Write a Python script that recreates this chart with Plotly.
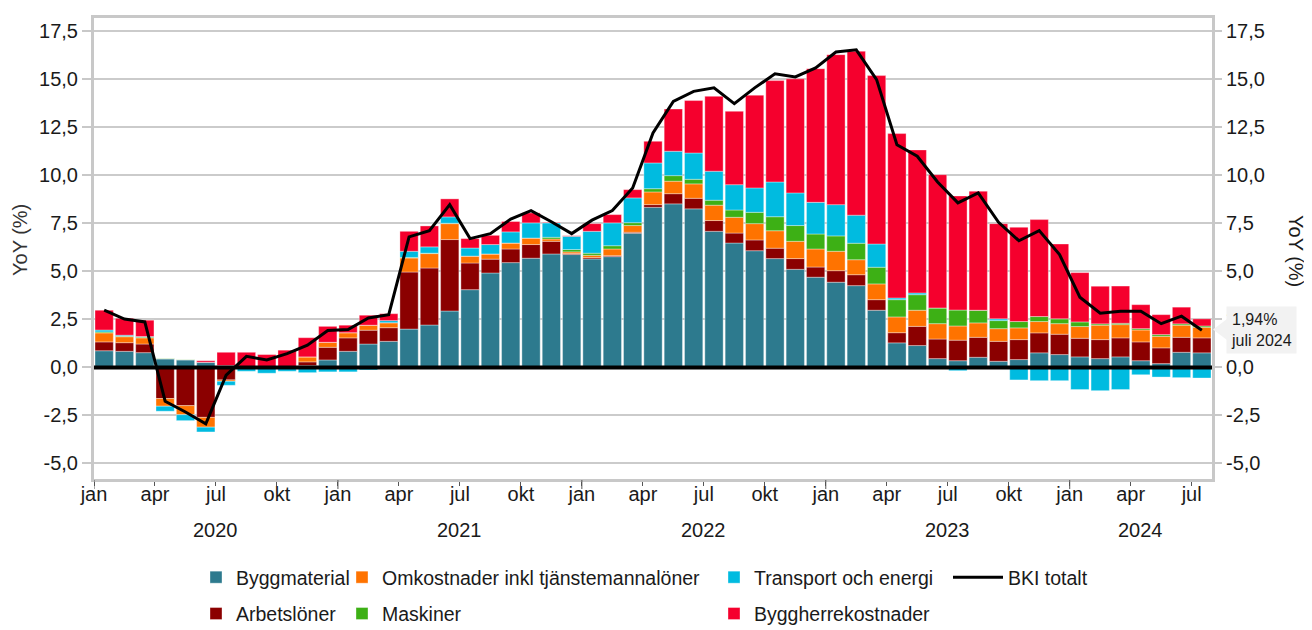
import plotly.graph_objects as go
import pandas as pd

# ---------------- data ----------------
months = pd.date_range("2020-01-01", "2024-07-01", freq="MS")
month_abbr = {1: "jan", 4: "apr", 7: "jul", 10: "okt"}

byggmaterial = [0.87, 0.84, 0.77, 0.44, 0.39, 0.27, 0.10, 0.03, 0.00, 0.05, 0.10, 0.39,
                0.84, 1.22, 1.36, 2.00, 2.21, 2.94, 4.05, 4.92, 5.46, 5.69, 5.91, 5.88,
                5.65, 5.77, 6.99, 8.34, 8.52, 8.26, 7.09, 6.48, 6.08, 5.67, 5.11, 4.70,
                4.44, 4.26, 2.98, 1.28, 1.14, 0.46, 0.35, 0.53, 0.32, 0.41, 0.76, 0.67,
                0.55, 0.46, 0.55, 0.35, 0.20, 0.79, 0.76]
arbetsloner = [0.46, 0.45, 0.45, -1.62, -1.99, -2.60, -0.65, 0.00, 0.00, 0.00, 0.19, 0.66,
               0.70, 0.72, 0.71, 2.97, 2.97, 3.72, 1.39, 0.72, 0.71, 0.71, 0.66, 0.05,
               0.07, 0.05, 0.05, 0.14, 0.53, 0.55, 0.56, 0.52, 0.56, 0.54, 0.56, 0.53,
               0.60, 0.57, 0.55, 0.53, 1.00, 1.02, 1.07, 1.04, 1.04, 1.04, 1.04, 1.06,
               0.97, 0.99, 0.99, 0.98, 0.82, 0.78, 0.78]
omkostnader = [0.47, 0.31, 0.32, -0.40, -0.47, -0.51, -0.07, 0.00, 0.00, 0.00, 0.26, 0.26,
               0.27, 0.26, 0.26, 0.73, 0.75, 0.83, 0.36, 0.27, 0.31, 0.34, 0.12, 0.09,
               0.12, 0.35, 0.35, 0.66, 0.65, 0.75, 0.80, 0.82, 0.85, 0.91, 0.90, 0.94,
               1.01, 0.78, 0.82, 0.82, 0.84, 0.80, 0.74, 0.75, 0.66, 0.61, 0.59, 0.55,
               0.61, 0.75, 0.69, 0.62, 0.60, 0.63, 0.55]
maskiner = [0.05, 0.03, 0.04, 0.03, 0.02, 0.00, 0.00, 0.00, 0.00, 0.00, 0.00, 0.00,
            0.00, 0.00, 0.00, 0.03, 0.02, 0.02, 0.00, 0.00, 0.00, 0.00, 0.09, 0.12,
            0.11, 0.17, 0.15, 0.17, 0.29, 0.24, 0.26, 0.38, 0.59, 0.73, 0.82, 0.78,
            0.80, 0.86, 0.87, 0.90, 0.81, 0.82, 0.83, 0.66, 0.42, 0.33, 0.26, 0.25,
            0.24, 0.07, 0.07, 0.07, 0.09, 0.07, 0.07]
transport = [0.10, 0.05, 0.03, -0.26, -0.31, -0.25, -0.21, -0.20, -0.30, -0.20, -0.27, -0.23,
             -0.23, -0.13, 0.11, 0.32, 0.33, 0.33, 0.42, 0.49, 0.58, 0.79, 0.75, 0.69,
             1.14, 1.19, 1.29, 1.34, 1.27, 1.37, 1.51, 1.32, 1.27, 1.81, 1.70, 1.65,
             1.63, 1.46, 1.21, 0.09, 0.09, 0.00, -0.17, 0.00, 0.09, -0.65, -0.69, -0.69,
             -1.15, -1.21, -1.15, -0.38, -0.50, -0.53, -0.55]
byggherre = [1.03, 0.88, 0.85, 0.00, 0.00, 0.08, 0.69, 0.76, 0.67, 0.85, 1.00, 0.83,
             0.39, 0.52, 0.36, 1.04, 1.09, 0.94, 0.49, 0.48, 0.54, 0.52, 0.03, 0.03,
             0.40, 0.43, 0.43, 1.13, 2.20, 2.73, 3.90, 3.82, 4.83, 5.28, 5.94, 6.96,
             7.81, 8.54, 8.77, 8.56, 7.45, 6.94, 5.94, 6.20, 4.96, 4.91, 5.05, 3.90,
             2.57, 1.96, 1.94, 1.25, 1.04, 0.87, 0.37]
bki_totalt = [2.98, 2.52, 2.37, -1.76, -2.32, -2.94, -0.40, 0.58, 0.39, 0.72, 1.16, 1.92,
              1.97, 2.58, 2.75, 6.80, 7.12, 8.48, 6.71, 6.97, 7.73, 8.17, 7.59, 6.97,
              7.67, 8.17, 9.35, 12.21, 13.86, 14.38, 14.56, 13.74, 14.56, 15.29, 15.13, 15.60,
              16.43, 16.54, 14.99, 11.60, 11.00, 9.66, 8.57, 9.09, 7.56, 6.60, 7.13, 5.88,
              3.66, 2.82, 2.93, 2.93, 2.28, 2.67, 1.94]

y_ticks = [-5.0, -2.5, 0.0, 2.5, 5.0, 7.5, 10.0, 12.5, 15.0, 17.5]
y_ticktext = [f"{v:.1f}".replace(".", ",") for v in y_ticks]
y_range = [-5.81, 18.2]

# ---------------- geometry helpers ----------------
W, H = 1312, 630
ML, MR, MT, MB = 86, 108, 10, 159
PW, PH = W - ML - MR, H - MT - MB


def px_x(px):
    return (px - ML) / PW


def px_y(py):
    return (H - MB - py) / PH


n = len(months)
xpos = [i + 0.5 for i in range(n)]
tickvals = [i for i, m in enumerate(months) if m.month in month_abbr]
ticktext = [month_abbr[months[i].month] for i in tickvals]
jan_ticks = [i for i, m in enumerate(months) if m.month == 1]

FONT = "Liberation Sans, Arial, sans-serif"
TXT = "#1a1a1a"

fig = go.Figure()
series = [
    ("Byggmaterial", byggmaterial, "#2d7a8e", "legend"),
    ("Arbetslöner", arbetsloner, "#8b0000", "legend"),
    ("Omkostnader inkl tjänstemannalöner", omkostnader, "#ff7300", "legend2"),
    ("Maskiner", maskiner, "#3db015", "legend2"),
    ("Transport och energi", transport, "#00bbe0", "legend3"),
    ("Byggherrekostnader", byggherre, "#f5002d", "legend3"),
]
for name, vals, col, lg in series:
    fig.add_trace(go.Bar(
        x=xpos, y=vals, name=name, legend=lg, legendgroup=name,
        marker=dict(color=col, line=dict(width=0.5, color="rgba(255,255,255,0.7)")),
    ))

fig.add_trace(go.Scatter(
    x=xpos, y=bki_totalt, name="BKI totalt", mode="lines", legend="legend4",
    line=dict(color="black", width=3), yaxis="y2",
))

axis_common = dict(range=y_range, tickvals=y_ticks, ticktext=y_ticktext,
                   tickfont=dict(size=20, color=TXT, family=FONT),
                   ticks="outside", ticklen=9, tickcolor="#c8c8c8", tickwidth=1.5,
                   zeroline=False, automargin=False, fixedrange=True)

legend_common = dict(orientation="v", xref="container", yref="container",
                     xanchor="left", yanchor="top", bgcolor="rgba(0,0,0,0)",
                     font=dict(size=19.5, color=TXT, family=FONT), tracegroupgap=8,
                     traceorder="grouped")

top_leg = 1 - 550 / H

shapes = [
    dict(type="line", xref="paper", yref="y", x0=0, x1=1, y0=0, y1=0,
         line=dict(color="black", width=4), layer="above"),
    dict(type="path", xref="paper", yref="paper", layer="above",
         path=f"M{px_x(1205)},{px_y(321.5)} L{px_x(1219)},{px_y(311)} L{px_x(1219)},{px_y(332)} Z",
         fillcolor="#f2f2f2", line=dict(width=0)),
]
for j in jan_ticks:
    shapes.append(dict(type="line", xref="x", yref="paper", x0=j, x1=j,
                       y0=px_y(472), y1=px_y(481), line=dict(color="#555", width=1)))

annotations = []
years = sorted(set(m.year for m in months))
for yr in years:
    idx = [i for i, m in enumerate(months) if m.year == yr]
    annotations.append(dict(x=(idx[0] + idx[-1] + 1) / 2, xref="x", y=px_y(522), yref="paper",
                            text=str(yr), showarrow=False, xanchor="center", yanchor="middle",
                            font=dict(size=20, color=TXT, family=FONT)))

last_val = f"{bki_totalt[-1]:.2f}".replace(".", ",")
annotations.append(dict(x=px_x(1218), y=px_y(321.5), xref="paper", yref="paper",
                        text=f"{last_val}%<br>juli {months[-1].year}", showarrow=False,
                        xanchor="left", yanchor="middle", align="left",
                        bgcolor="#f2f2f2", borderpad=4,
                        font=dict(size=16, color=TXT, family=FONT)))
annotations.append(dict(x=px_x(1288), y=px_y(243), xref="paper", yref="paper",
                        text="YoY (%)", textangle=90, showarrow=False,
                        xanchor="center", yanchor="middle",
                        font=dict(size=20, color=TXT, family=FONT)))
annotations.append(dict(x=px_x(12), y=px_y(232), xref="paper", yref="paper",
                        text="YoY (%)", textangle=-90, showarrow=False,
                        xanchor="center", yanchor="middle",
                        font=dict(size=20, color="#333", family=FONT)))

fig.update_layout(
    width=W, height=H, autosize=False,
    margin=dict(l=ML, r=MR, t=MT, b=MB, autoexpand=False),
    paper_bgcolor="white", plot_bgcolor="white",
    font=dict(family=FONT, color=TXT, size=20),
    barmode="relative", bargap=0.1,
    xaxis=dict(range=[0, n], tickvals=tickvals, ticktext=ticktext,
               tickfont=dict(size=20, color=TXT, family=FONT),
               ticks="outside", ticklen=4, tickcolor="#555", tickwidth=1,
               ticklabelstandoff=-9,
               showgrid=False, zeroline=False, showline=True, mirror=True,
               linecolor="#c8c8c8", linewidth=3, automargin=False, fixedrange=True),
    yaxis=dict(**axis_common, showgrid=True, gridcolor="#cbcbcb", gridwidth=1.5,
               showline=True, mirror=True, linecolor="#c8c8c8", linewidth=3),
    yaxis2=dict(**axis_common, overlaying="y", side="right", showgrid=False, showline=False),
    legend=dict(**legend_common, x=188 / W, y=top_leg),
    legend2=dict(**legend_common, x=334 / W, y=top_leg),
    legend3=dict(**legend_common, x=706 / W, y=top_leg),
    legend4=dict(**legend_common, x=940 / W, y=top_leg, itemwidth=50),
    shapes=shapes,
    annotations=annotations,
)

fig.write_html("out.html")
